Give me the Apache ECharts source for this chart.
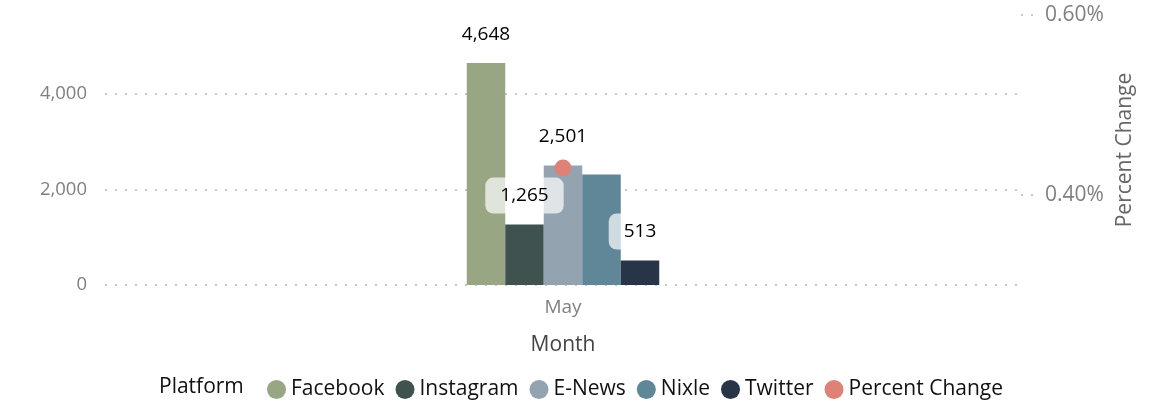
<!DOCTYPE html>
<html>
<head>
<meta charset="utf-8">
<script src="https://cdn.jsdelivr.net/npm/echarts@6/dist/echarts.min.js"></script>
<style>
html,body{margin:0;padding:0;background:#fff;}
#c{width:1149px;height:404px;}
</style>
</head>
<body>
<div id="c"></div>
<script>
const categories = ['May'];
const platforms = ['Facebook', 'Instagram', 'E-News', 'Nixle', 'Twitter'];
const facebook = [4648];
const instagram = [1265];
const enews = [2501];
const nixle = [2310];
const twitter = [513];
const percentChange = [0.43];
const leftTicks = [0, 2000, 4000];
const rightTicks = [0.4, 0.6];
const hiddenLabels = ['Nixle'];

const colors = ['#98A684', '#3F524F', '#93A3B0', '#5F8797', '#283548', '#DE8277'];
const FONT = 'Open Sans';
const barValues = [facebook, instagram, enews, nixle, twitter];

const barSeries = platforms.map((name, i) => ({
  name: name,
  type: 'bar',
  yAxisIndex: 0,
  barWidth: 38.5,
  barGap: '0%',
  itemStyle: { color: colors[i] },
  label: {
    show: hiddenLabels.indexOf(name) < 0,
    position: 'top',
    distance: 11,
    color: '#000',
    fontFamily: FONT,
    fontSize: 19,
    padding: [9, 15, 8, 15],
    borderRadius: 8,
    backgroundColor: 'rgba(255,255,255,0.7)',
    formatter: p => Number(p.value).toLocaleString('en-US')
  },
  z: 2,
  data: barValues[i]
}));

const option = {
  animation: false,
  textStyle: { fontFamily: FONT },
  grid: { left: 105, right: 128, top: 15, bottom: 119 },
  legend: {
    left: 262,
    top: 374,
    icon: 'circle',
    itemWidth: 19,
    itemHeight: 19,
    itemGap: 11,
    textStyle: { fontFamily: FONT, fontSize: 21, color: '#111' },
    data: platforms.concat(['Percent Change'])
  },
  graphic: [{
    type: 'text',
    left: 159,
    top: 373,
    style: { text: 'Platform', fontFamily: FONT, fontSize: 21, fill: '#111', verticalAlign: 'top', lineHeight: 28 }
  }],
  xAxis: {
    type: 'category',
    data: categories,
    name: 'Month',
    nameLocation: 'middle',
    nameGap: 50,
    nameTextStyle: { fontFamily: FONT, fontSize: 21, color: '#444' },
    axisLine: { show: false },
    axisTick: { show: false },
    axisLabel: { fontFamily: FONT, fontSize: 19, color: '#808080', margin: 13 }
  },
  yAxis: [{
    type: 'value',
    min: 0,
    max: 5650,
    position: 'left',
    axisLine: { show: false },
    axisTick: { show: false, customValues: leftTicks },
    axisLabel: {
      customValues: leftTicks,
      fontFamily: FONT, fontSize: 18.5, color: '#808080', margin: 18,
      formatter: v => Number(v).toLocaleString('en-US')
    },
    splitLine: { show: true, lineStyle: { color: '#c8c8c8', width: 2, type: [2, 8] } }
  }, {
    type: 'value',
    min: 0.3,
    max: 0.6,
    position: 'right',
    name: 'Percent Change',
    nameLocation: 'middle',
    nameGap: 92,
    nameRotate: 90,
    nameTextStyle: { fontFamily: FONT, fontSize: 21, color: '#666' },
    axisLine: { show: false },
    axisTick: { show: true, inside: false, length: 14, customValues: rightTicks,
      lineStyle: { color: '#c8c8c8', width: 2, type: [2, 8] } },
    axisLabel: {
      customValues: rightTicks,
      fontFamily: FONT, fontSize: 21, color: '#808080', margin: 24,
      formatter: v => Number(v).toFixed(2) + '%'
    },
    splitLine: { show: false }
  }],
  series: barSeries.concat([{
    name: 'Percent Change',
    type: 'line',
    yAxisIndex: 1,
    symbol: 'circle',
    symbolSize: 17,
    itemStyle: { color: colors[5] },
    lineStyle: { color: colors[5] },
    label: { show: false },
    z: 5,
    data: percentChange
  }])
};

const chart = echarts.init(document.getElementById('c'), null, { renderer: 'canvas' });
chart.setOption(option);
</script>
</body>
</html>
